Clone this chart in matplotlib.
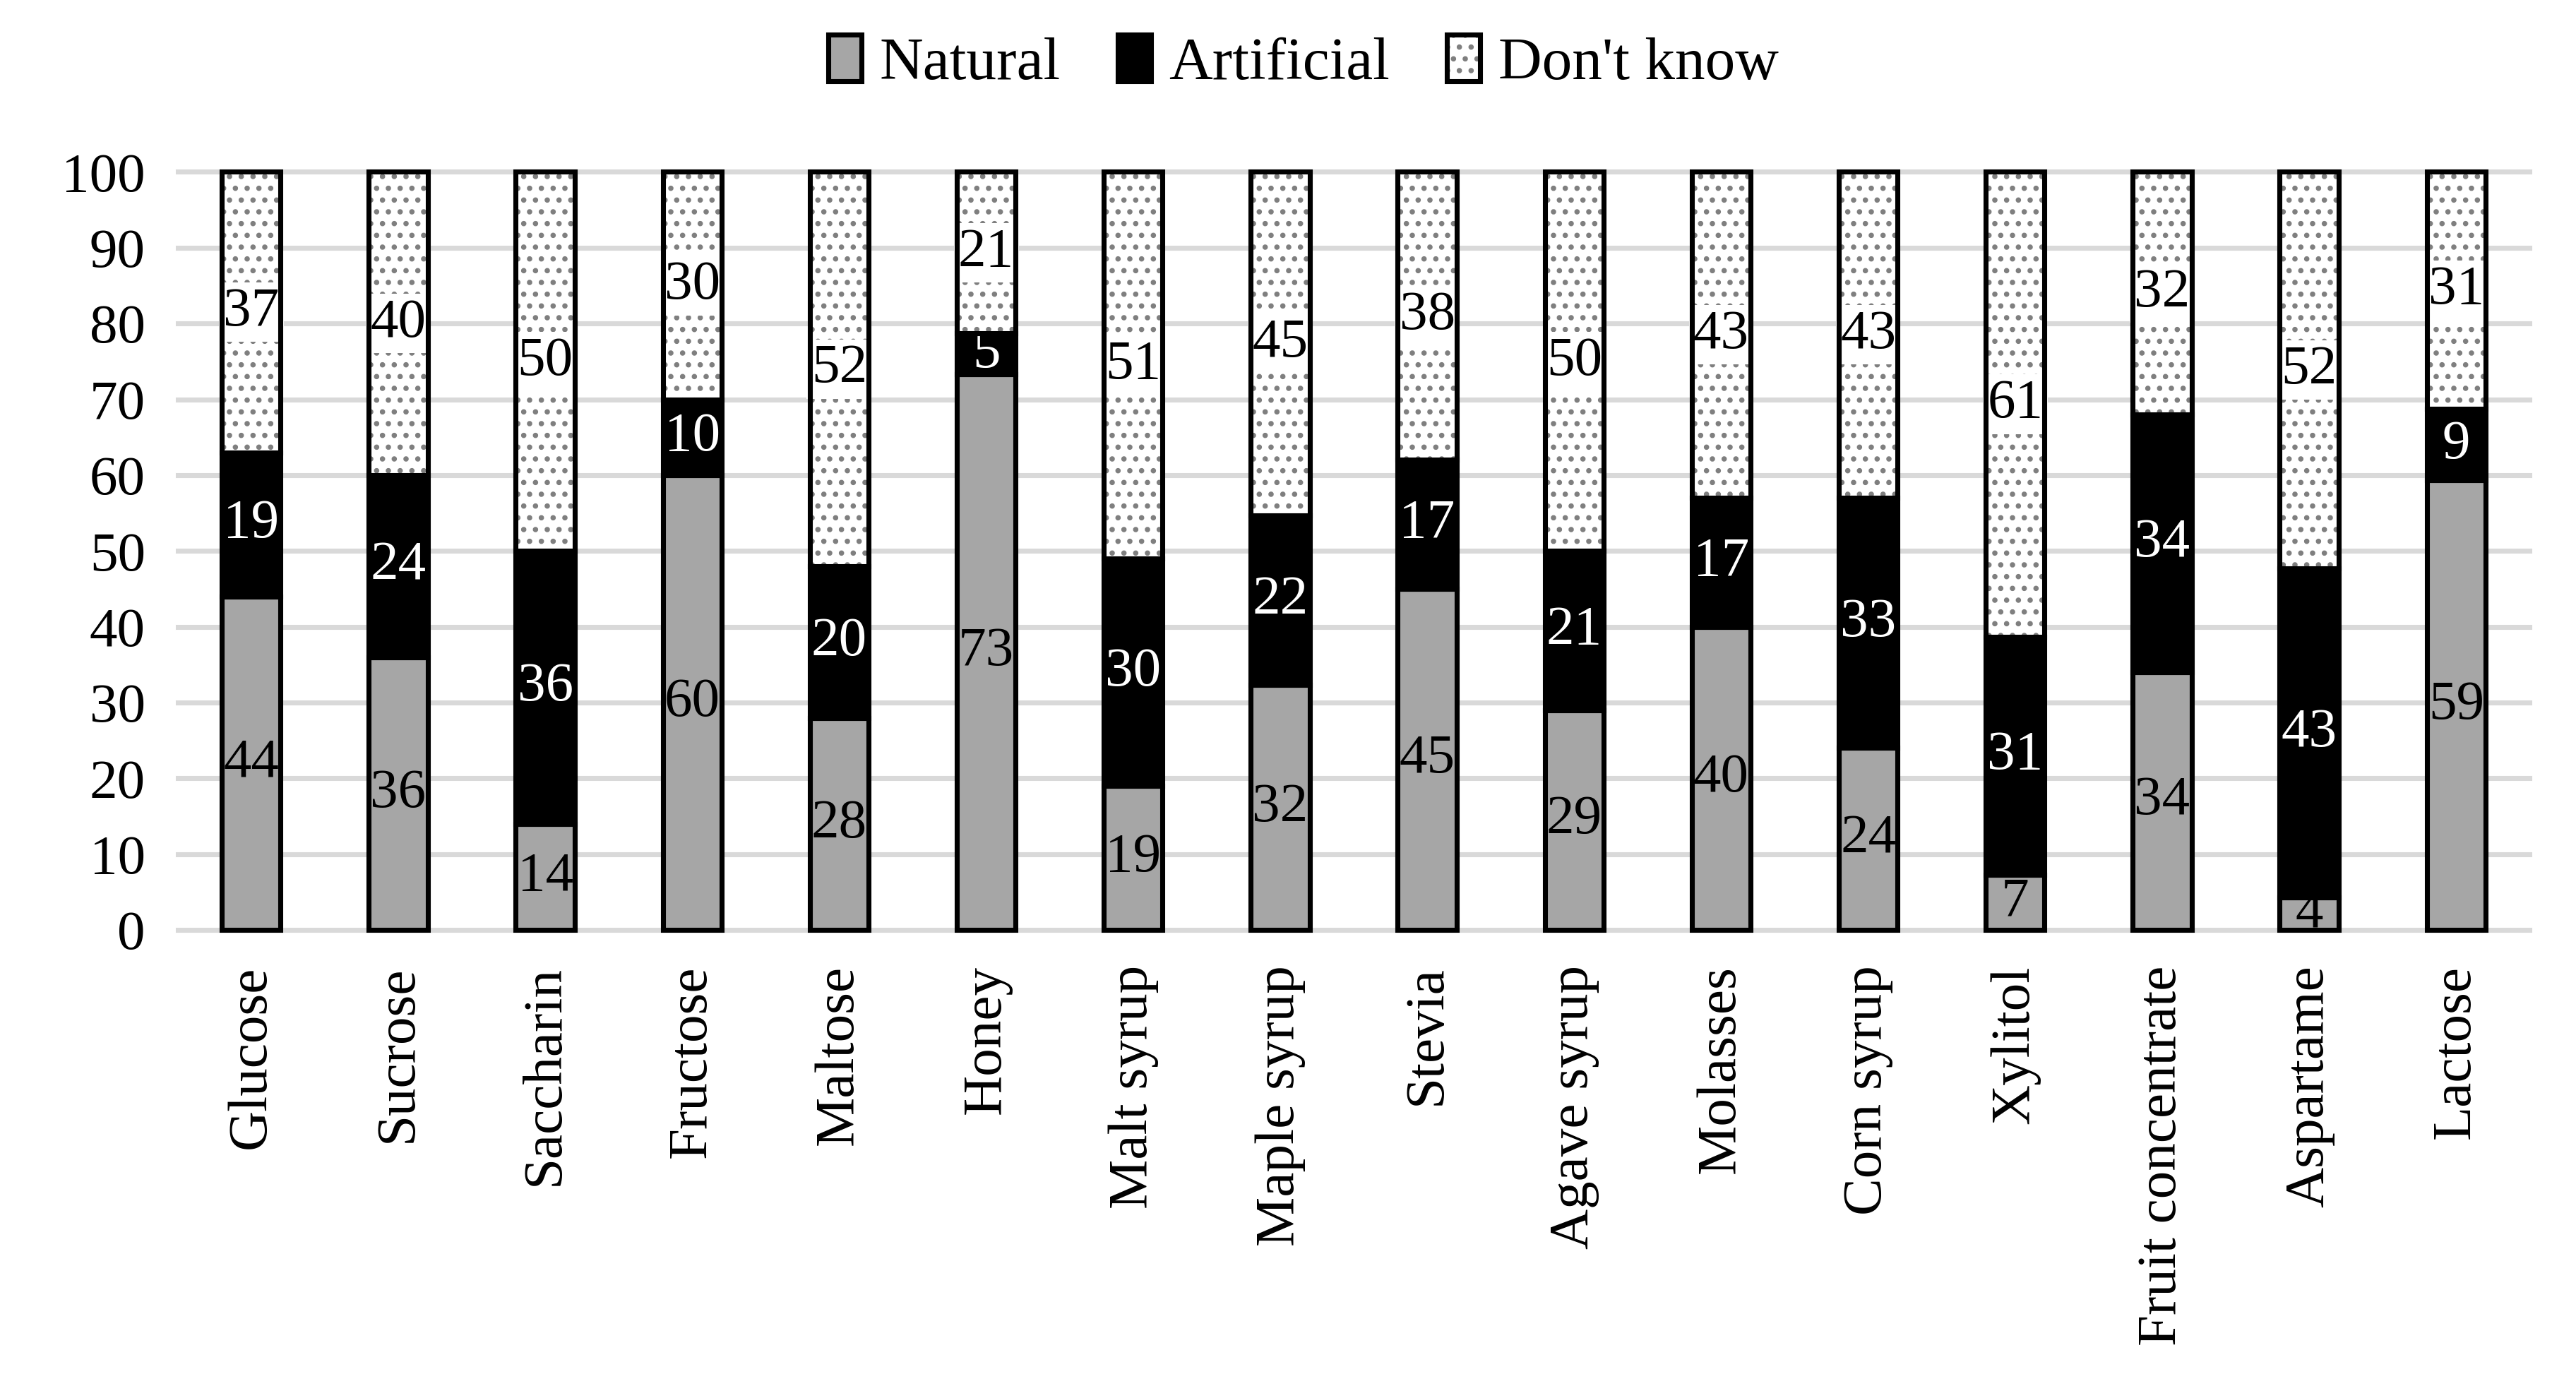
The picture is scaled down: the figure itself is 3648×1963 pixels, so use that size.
import numpy as np
import matplotlib.pyplot as plt
from matplotlib.patches import Patch
from matplotlib.legend_handler import HandlerTuple

plt.rcParams['font.family'] = ['Liberation Serif', 'DejaVu Serif']
plt.rcParams['hatch.linewidth'] = 1.0

categories = ['Glucose', 'Sucrose', 'Saccharin', 'Fructose', 'Maltose', 'Honey',
              'Malt syrup', 'Maple syrup', 'Stevia', 'Agave syrup', 'Molasses',
              'Corn syrup', 'Xylitol', 'Fruit concentrate', 'Aspartame', 'Lactose']
natural = [44, 36, 14, 60, 28, 73.3, 19, 32.3, 45, 29, 40, 24, 7.3, 34, 4.3, 59.3]
artificial = [19, 24, 36, 10, 20, 5.4, 30, 22.4, 17, 21, 17, 33, 31.4, 34, 43.4, 9.4]
dont_know = [37, 40, 50, 30, 52, 21.3, 51, 45.3, 38, 50, 43, 43, 61.3, 32, 52.3, 31.3]

FS = 19
GRAY = '#a6a6a6'
DOT = '#7f7f7f'
W = 0.4
LW = 1.7

fig = plt.figure(figsize=(3648 / 300, 1963 / 300), dpi=300)
ax = fig.add_axes([0.069, 0.329, 0.913, 0.547])

x = np.arange(len(categories))
nat = np.array(natural)
art = np.array(artificial)
dk = np.array(dont_know)

ax.bar(x, nat, W, color=GRAY, edgecolor='black', linewidth=LW, zorder=3, clip_on=False)
ax.bar(x, art, W, bottom=nat, color='black', edgecolor='black', linewidth=LW, zorder=3, clip_on=False)
ax.bar(x, dk, W, bottom=nat + art, color='white', edgecolor=DOT, hatch='...', linewidth=0, zorder=3, clip_on=False)
ax.bar(x, dk, W, bottom=nat + art, fill=False, edgecolor='black', linewidth=LW, zorder=6, clip_on=False)

for i in x:
    ax.text(i, nat[i] / 2, f'{nat[i]:.0f}', ha='center', va='center', fontsize=FS, color='black', zorder=5)
    ax.text(i, nat[i] + art[i] / 2, f'{art[i]:.0f}', ha='center', va='center', fontsize=FS, color='white', zorder=5)
    ax.text(i, nat[i] + art[i] + dk[i] / 2, f'{dk[i]:.0f}', ha='center', va='center', fontsize=FS, color='black', zorder=5,
            bbox=dict(facecolor='white', edgecolor='none', pad=1.5))

ax.set_xlim(-0.5, len(categories) - 0.5)
ax.set_ylim(0, 100)
ax.set_yticks(np.arange(0, 101, 10))
ax.set_xticks(x)
ax.set_xticklabels(categories, rotation=90, fontsize=FS)
ax.tick_params(axis='y', length=0, pad=11, labelsize=FS)
ax.tick_params(axis='x', length=0, pad=12)
ax.yaxis.grid(True, color='#d9d9d9', linewidth=LW)
for gl in ax.get_ygridlines():
    gl.set_clip_on(False)
ax.set_axisbelow(True)
for s in ax.spines.values():
    s.set_visible(False)

h_nat = Patch(facecolor=GRAY, edgecolor='black', linewidth=LW)
h_art = Patch(facecolor='black', edgecolor='black', linewidth=LW)
h_dk = (Patch(facecolor='white', edgecolor=DOT, hatch='...', linewidth=0),
        Patch(fill=False, edgecolor='black', linewidth=LW))
fig.legend([h_nat, h_art, h_dk], ['Natural', 'Artificial', "Don't know"],
           handler_map={tuple: HandlerTuple(ndivide=1, pad=0)},
           loc='upper center', bbox_to_anchor=(0.506, 1.014), ncol=3, frameon=False,
           fontsize=20.5, handlelength=0.55, handleheight=0.8, handletextpad=0.3,
           columnspacing=0.95)

plt.savefig('out.png', dpi=300)
